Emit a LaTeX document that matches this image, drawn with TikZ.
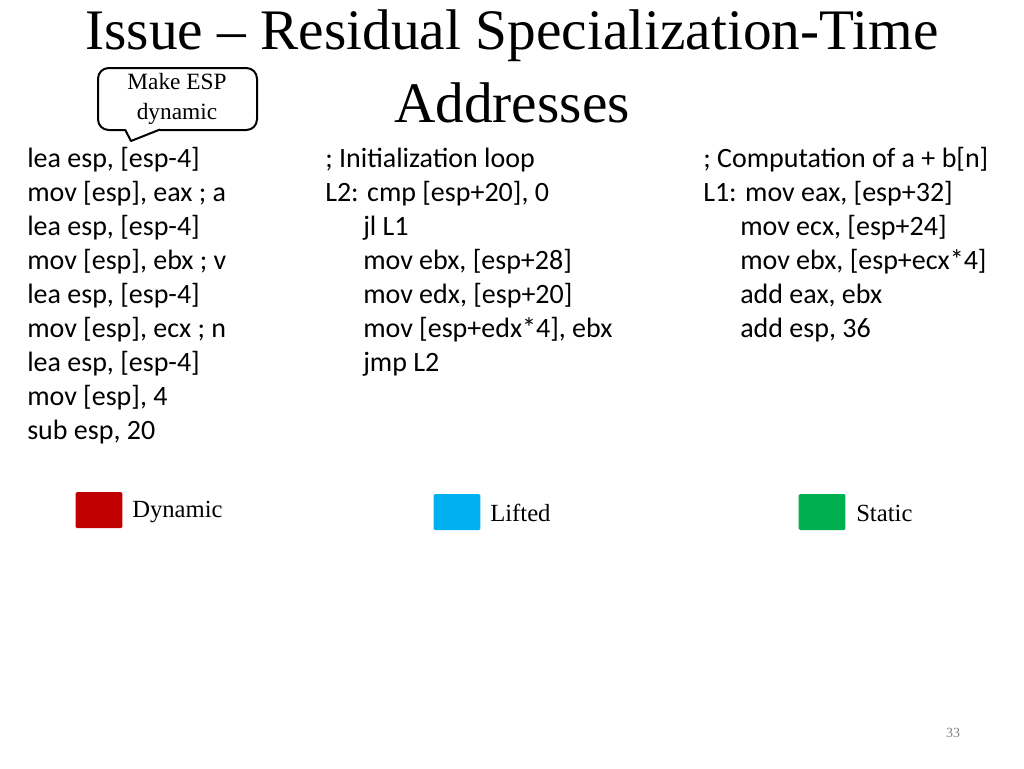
\documentclass[tikz,border=0pt]{standalone}
\usepackage{fontspec}
\setmainfont{Liberation Serif}
\newfontfamily\codefont{Carlito}
\begin{document}
\begin{tikzpicture}[x=0.75pt,y=-0.75pt,
  code/.style={anchor=west,inner sep=0pt,font=\codefont\fontsize{21}{23}\selectfont},
  title/.style={inner sep=0pt,font=\fontsize{43}{46}\selectfont},
  leg/.style={anchor=west,inner sep=0pt,font=\fontsize{18.5}{20}\selectfont},
  sq/.style={minimum width=35pt,minimum height=27pt,inner sep=0pt,rounded corners=1pt}]
\useasboundingbox (0,0) rectangle (1024,768);
\node[title] (t1) at (512,36) {Issue -- Residual Specialization-Time};
\node[title] (t2) at (512,103) {Addresses};
% callout
\draw[line width=1.5pt,fill=white,rounded corners=8pt] (160,130) -- (257,130) -- (257,68) -- (98,68) -- (98,130) -- (125,130);
\draw[line width=1.5pt,line join=round] (125,129.5) -- (131,141) -- (160,129.5);
\node[inner sep=0pt,align=center,font=\fontsize{17.5}{22.5}\selectfont] (c) at (177,99) {Make ESP\\dynamic};
% column 1
\foreach \t [count=\i] in {lea esp{,} [esp-4],mov [esp]{,} eax ; a,lea esp{,} [esp-4],mov [esp]{,} ebx ; v,lea esp{,} [esp-4],mov [esp]{,} ecx ; n,lea esp{,} [esp-4],mov [esp]{,} 4,sub esp{,} 20}
  \node[code] (a\i) at (27,{126+34*\i}) {\t};
% column 2
\node[code] (b1) at (325,160) {; Initialization loop};
\node[code] (b2) at (325,194) {L2: cmp [esp+20], 0};
\foreach \t [count=\i from 3] in {jl L1,mov ebx{,} [esp+28],mov edx{,} [esp+20],mov [esp+edx*4]{,} ebx,jmp L2}
  \node[code] (b\i) at (363,{126+34*\i}) {\t};
% column 3
\node[code] (d1) at (703,160) {; Computation of a + b[n]};
\node[code] (d2) at (703,194) {L1: mov eax, [esp+32]};
\foreach \t [count=\i from 3] in {mov ecx{,} [esp+24],mov ebx{,} [esp+ecx*4],add eax{,} ebx,add esp{,} 36}
  \node[code] (d\i) at (740,{126+34*\i}) {\t};
% legend
\node[sq,fill={rgb,255:red,192;green,0;blue,0}] (r) at (99,510) {};
\node[leg] (rl) at (132,512) {Dynamic};
\node[sq,fill={rgb,255:red,0;green,176;blue,240}] (b) at (457,512) {};
\node[leg] (bl) at (490,513) {Lifted};
\node[sq,fill={rgb,255:red,0;green,176;blue,80}] (g) at (822,512) {};
\node[leg] (gl) at (856,513) {Static};
\node[inner sep=0pt,text=gray,font=\fontsize{10.5}{12}\selectfont] (p) at (953,733) {33};
\end{tikzpicture}
\end{document}
